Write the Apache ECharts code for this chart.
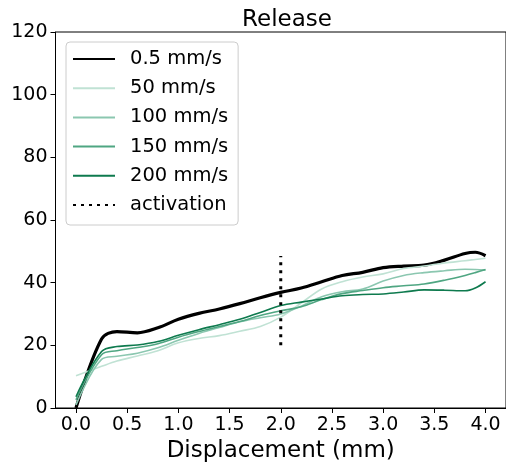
<!DOCTYPE html>
<html>
<head>
<meta charset="utf-8">
<script src="https://cdn.jsdelivr.net/npm/echarts@6/dist/echarts.min.js"></script>
<style>html,body{margin:0;padding:0;background:#fff}#c{width:506px;height:468px}</style>
</head>
<body>
<div id="c"></div>
<script>
var xs = [0, 0.25, 0.4, 0.6, 0.8, 1.0, 1.2, 1.4, 1.6, 1.8, 2.0, 2.2, 2.4, 2.6, 2.8, 3.0, 3.2, 3.4, 3.6, 3.8, 3.9, 4.0];
var v05  = [0, 22.0, 24.4, 24.0, 25.6, 28.3, 30.2, 31.6, 33.3, 35.2, 36.9, 38.3, 40.3, 42.3, 43.3, 44.8, 45.3, 45.6, 47.2, 49.3, 49.7, 48.6];
var v50  = [10.3, 13.3, 15.0, 16.6, 18.3, 20.8, 22.2, 23.1, 24.5, 26.0, 29.0, 33.5, 38.0, 40.3, 41.8, 42.8, 44.5, 45.3, 46.3, 47.0, 47.4, 47.8];
var v100 = [1.0, 15.5, 16.5, 17.5, 19.2, 21.6, 23.8, 25.7, 27.5, 28.8, 30.0, 32.5, 35.5, 37.1, 38.0, 40.5, 42.3, 43.2, 43.8, 44.3, 44.2, 44.0];
var v150 = [2.6, 17.0, 18.3, 19.3, 20.5, 22.6, 24.4, 26.0, 27.6, 29.5, 31.0, 32.3, 34.6, 36.5, 37.5, 38.4, 39.0, 39.6, 40.8, 42.3, 43.2, 44.2];
var v200 = [3.6, 18.0, 19.6, 20.1, 21.2, 23.2, 25.0, 26.6, 28.3, 30.5, 32.7, 33.8, 34.8, 35.8, 36.2, 36.4, 37.0, 37.7, 37.6, 37.4, 38.3, 40.3];
var activationX = [2.0, 2.0];
var activationY = [20.0, 48.5];
var names = ['0.5 mm/s', '50 mm/s', '100 mm/s', '150 mm/s', '200 mm/s', 'activation'];
var xTicks = [0, 0.5, 1.0, 1.5, 2.0, 2.5, 3.0, 3.5, 4.0];

function pairs(x, y) { return x.map(function (v, i) { return [v, y[i]]; }); }

var F = 'DejaVu Sans';
var chart = echarts.init(document.getElementById('c'), null, {renderer: 'canvas'});
function line(name, data, color, width) {
  return {
    name: name, type: 'line', data: pairs(xs, data), symbol: 'none', smooth: 0.35,
    lineStyle: {color: color, width: width}, itemStyle: {color: color}, animation: false
  };
}
chart.setOption({
  animation: false,
  title: {
    text: 'Release', left: 282, top: 4, textAlign: 'center',
    textStyle: {fontFamily: F, fontSize: 23, fontWeight: 'normal', color: '#000'}
  },
  grid: {left: 55.5, top: 32, width: 452, height: 376, show: true, borderColor: '#000', borderWidth: 1},
  legend: {
    orient: 'vertical', left: 66, top: 42, padding: [7, 10, 10, 6],
    itemWidth: 42, itemHeight: 20, itemGap: 9.2,
    borderColor: '#cccccc', borderWidth: 1, borderRadius: 4, backgroundColor: '#fff',
    itemStyle: {opacity: 0, borderWidth: 0},
    textStyle: {fontFamily: F, fontSize: 19.5, color: '#000', padding: [0, 0, 0, 10], lineHeight: 20},
    data: names
  },
  xAxis: {
    type: 'value', min: -0.2, max: 4.2,
    name: 'Displacement (mm)', nameLocation: 'middle', nameGap: 28,
    nameTextStyle: {fontFamily: F, fontSize: 23, color: '#000'},
    axisLine: {show: true, onZero: false, lineStyle: {color: '#000', width: 1}},
    axisTick: {show: true, length: 5, lineStyle: {color: '#000'}, customValues: xTicks},
    axisLabel: {fontFamily: F, fontSize: 19, color: '#000', margin: 8, customValues: xTicks,
      formatter: function (v) { return v.toFixed(1); }},
    splitLine: {show: false}
  },
  yAxis: {
    type: 'value', min: 0, max: 120, interval: 20,
    axisLine: {show: true, onZero: false, lineStyle: {color: '#000', width: 1}},
    axisTick: {show: true, length: 5, lineStyle: {color: '#000'}},
    axisLabel: {fontFamily: F, fontSize: 19, color: '#000', margin: 8},
    splitLine: {show: false}
  },
  series: [
    line(names[0], v05, '#000000', 3.2),
    line(names[1], v50, '#c0e2d4', 1.6),
    line(names[2], v100, '#8bc7b0', 1.6),
    line(names[3], v150, '#4fa682', 1.6),
    line(names[4], v200, '#0e7a4e', 1.6),
    {
      name: names[5], type: 'line', data: pairs(activationX, activationY), symbol: 'none',
      lineStyle: {color: '#000', width: 3, type: [3, 5], cap: 'butt'}, itemStyle: {color: '#000'}, animation: false
    }
  ]
});
</script>
</body>
</html>
